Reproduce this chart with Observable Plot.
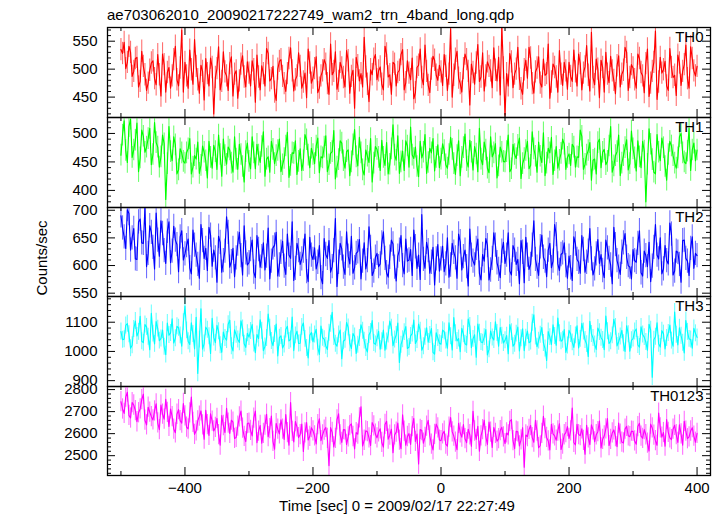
<!DOCTYPE html>
<html><head><meta charset="utf-8">
<script src="https://cdn.jsdelivr.net/npm/d3@7"></script>
<script src="https://cdn.jsdelivr.net/npm/@observablehq/plot@0.6"></script>
<style>
body{margin:0;background:#fff;}
#chart{position:relative;width:723px;height:516px;overflow:hidden;font-family:"Liberation Sans",Arial,Helvetica,sans-serif;color:#000;}
#chart svg{position:absolute;left:0;}
.lbl{position:absolute;font-size:15px;line-height:15px;white-space:nowrap;}
</style></head><body>
<div id="chart">
  <div class="lbl" id="title" style="left:107px;top:7px;"></div>
  <div class="lbl" id="ylab" style="left:41px;top:258px;transform:translate(-50%,-50%) rotate(-90deg);"></div>
  <div class="lbl" id="xlab" style="left:397px;top:498px;transform:translateX(-50%);"></div>
</div>
<script>
// ---- data ----
const titleText = "ae703062010_20090217222749_wam2_trn_4band_long.qdp";
const yLabel = "Counts/sec";
const xLabel = "Time [sec] 0 = 2009/02/17 22:27:49";
const seriesNames = ["TH0", "TH1", "TH2", "TH3", "TH0123"];
const tStart = -500, tStep = 5;   // bins "a" at tStart + j*tStep, bins "b" half a step later
const xTicks = [-400, -200, 0, 200, 400];
const xMinor = [-500, -300, -100, 100, 300];

const th0a = [
535,548,512,530,496,521,478,505,462,498,515,472,490,527,459,503,488,541,470,570,
512,466,499,553,481,507,445,492,520,420,501,463,531,488,510,452,497,479,524,468,
493,515,441,486,506,470,528,483,459,500,517,474,492,538,461,488,505,477,449,511,
484,522,466,497,509,455,490,531,478,502,468,515,487,430,506,492,557,473,499,518,
481,504,463,527,490,512,470,498,535,476,493,520,458,507,485,543,471,500,516,480,
495,526,462,572,489,532,474,501,517,436,494,511,478,529,488,505,467,498,521,575,
418,470,513,491,539,465,499,484,520,457,502,475,518,492,448,509,486,533,471,497,
512,478,495,527,463,504,489,566,472,500,516,459,491,523,480,506,468,498,530,485,
502,466,519,488,510,451,496,568,477,493,514,462,503,489,525,471,508,483,540,497,
505];
const th0b = [
528,501,541,487,519,468,532,490,475,511,483,526,452,508,494,466,517,481,502,459,
488,534,473,505,457,496,519,470,503,485,540,478,495,462,522,491,448,509,486,513,
470,499,525,463,492,537,479,505,444,514,487,460,519,497,481,529,466,493,536,475,
501,458,488,517,474,545,496,464,512,485,533,457,498,521,479,468,504,442,490,526,
497,473,541,486,455,509,494,526,463,515,481,447,503,536,472,496,458,523,489,507,
471,505,491,450,518,484,459,527,496,509,473,544,486,461,513,497,538,479,454,502,
492,528,467,500,482,455,516,539,474,495,522,468,489,545,477,503,459,491,512,464,
487,534,470,510,493,542,461,485,518,449,503,530,476,497,456,524,491,539,462,508,
481,527,494,458,536,475,512,446,521,499,470,537,485,453,511,496,543,466,519,488];
const th1a = [
462,522,449,525,471,518,457,495,476,509,463,484,441,497,384,512,452,480,436,466,
448,473,429,461,485,444,467,422,458,479,437,463,490,446,471,432,455,481,442,468,
451,494,438,462,477,425,459,486,447,470,433,456,502,444,465,428,473,452,489,440,
463,478,431,457,496,445,468,420,454,483,439,471,450,507,443,466,427,460,491,448,
472,435,458,484,446,515,453,430,469,487,441,462,476,424,457,498,449,466,434,480,
455,470,439,493,447,461,426,475,452,488,436,464,509,445,471,431,459,482,443,467,
450,497,438,463,479,421,456,486,444,473,432,460,501,448,466,428,477,453,490,437,
464,481,441,458,495,446,470,418,455,484,440,472,451,512,443,468,426,461,489,447,
473,434,459,486,380,508,454,429,467,492,442,463,478,448,457,500,450,469,435,483,
471];
const th1b = [
497,470,512,458,488,433,506,467,491,445,519,476,459,482,447,468,494,429,473,451,
466,491,441,455,430,478,452,486,439,468,497,425,461,476,448,494,437,463,415,483,
438,466,481,449,503,455,432,472,461,490,445,478,423,466,487,451,435,498,462,474,
447,492,459,476,433,465,505,441,487,452,468,426,480,459,493,436,471,449,415,477,
458,488,444,429,473,462,496,450,435,478,511,456,442,486,467,430,474,491,458,440,
482,445,463,472,428,487,458,499,441,467,477,433,455,485,439,494,466,422,476,451,
468,433,481,456,492,447,470,438,503,460,485,449,426,474,493,452,439,465,481,458,
444,476,459,506,437,462,484,453,429,490,467,445,478,432,461,497,448,475,436,504,
457,487,440,469,446,481,432,498,452,475,418,486,461,439,494,466,447,509,471,452];
const th2a = [
690,652,701,628,667,611,684,640,598,672,633,695,617,658,604,679,626,646,589,663,
621,648,585,637,602,674,613,591,655,628,570,642,609,688,597,631,614,660,583,623,
605,646,578,629,616,592,668,608,637,581,624,599,657,613,573,640,602,626,589,651,
611,594,636,567,620,645,598,685,606,630,584,617,653,596,625,576,641,609,633,590,
622,603,661,587,615,639,572,628,600,648,610,582,634,619,692,595,627,606,565,638,
612,589,650,601,624,577,643,616,598,666,608,631,586,620,649,574,613,637,593,626,
604,659,583,628,611,645,569,619,602,681,597,634,615,580,640,608,656,591,623,600,
617,573,639,606,654,588,626,612,594,647,620,578,632,601,669,609,584,641,615,597,
629,606,663,581,618,642,599,674,612,585,636,603,657,590,624,570,646,608,631,595,
618];
const th2b = [
668,631,694,650,612,679,641,705,622,660,594,646,681,627,662,605,671,638,652,610,
636,596,664,619,577,645,631,669,599,614,653,588,626,660,607,580,639,618,672,601,
629,588,654,597,641,617,576,632,660,601,644,584,619,679,595,627,612,657,571,619,
632,606,578,649,613,588,627,562,640,597,661,603,586,622,647,608,594,670,582,615,
598,641,613,579,646,597,617,654,585,608,629,664,595,575,611,642,586,633,612,590,
635,603,579,640,614,657,592,628,563,619,601,648,574,608,636,592,659,605,578,642,
619,590,636,602,567,624,651,593,637,611,582,655,608,628,596,674,603,620,641,577,
596,652,611,586,629,606,667,583,621,604,591,646,613,567,638,597,624,658,600,576,
609,640,587,626,598,571,633,619,650,594,609,677,583,626,602,645,613,582,652,622];
const th3a = [
1068,1042,1095,1011,1077,1053,1120,1030,1084,1006,1061,1102,1037,1073,989,1056,1112,1045,1081,1018,
1155,1035,1098,1009,925,1146,1027,1074,993,1048,1089,1021,1066,1039,1107,1002,1057,1031,1079,1014,
1049,1092,996,1044,1071,1017,1128,1036,1060,985,1053,1024,1086,1041,1003,1069,1028,1097,1012,1055,
1033,1076,990,1047,1019,1064,1134,1026,1058,975,1040,1082,1010,1051,1023,1091,1037,998,1067,1029,
1045,1008,1073,1034,1104,1020,1056,962,1042,1085,1015,1061,1027,1094,1004,1050,1032,1078,991,1046,
1025,1068,1011,1052,1116,1036,999,1059,1022,1087,1043,980,1064,1030,1075,1007,1048,1101,1018,1054,
1038,992,1066,1026,1083,1045,1003,1070,1034,1125,1016,1057,1029,969,1049,1091,1021,1062,1040,997,
1072,1031,1055,1012,1096,1039,983,1060,1024,1080,1047,1006,1069,1035,1110,1019,1051,1028,1088,1001,
1044,1077,1015,1058,1032,1093,912,1050,1026,1071,1009,1063,1037,1135,1022,1054,995,1067,1041,1079,
1048];
const th3b = [
1040,1089,1059,1021,1104,1067,1035,1092,1050,1130,1026,1078,1044,1016,1097,1063,1029,1086,1055,1100,
1072,1024,1060,1117,1041,1008,1083,1052,1113,1030,1069,997,1046,1093,1018,1074,1041,1105,1026,1062,
1070,1027,1058,1108,1003,1046,1081,1020,1094,1047,1012,1075,1036,1118,1055,1027,1084,1043,978,1065,
1058,1013,1087,1042,1007,1095,1049,1018,1073,1035,1099,1028,1061,993,1046,1071,1012,1056,1106,1024,
1069,1035,1004,1058,1081,1041,1097,1023,1066,1010,1053,1107,1039,1071,1018,1081,1056,997,1064,1028,
1073,1037,1098,1005,1062,1044,1079,1026,1111,1013,1057,1094,1032,1049,988,1070,1039,1063,1082,1029,
1054,1092,1018,1061,1002,1077,1047,1030,1098,1051,1037,1082,1010,1068,1024,1053,1114,1035,1075,1020,
1060,1014,1088,1043,1068,1025,1103,1046,1007,1066,1039,1121,1027,1055,1084,1033,1072,1000,1059,1038,
1068,1022,1084,1049,1004,1074,1040,1098,1015,1061,1046,1090,1018,1057,1081,1030,1106,1043,1011,1062];
const th0123a = [
2745,2692,2788,2671,2730,2654,2712,2779,2640,2698,2662,2735,2618,2689,2756,2633,2677,2604,2709,2648,
2681,2622,2766,2597,2658,2703,2575,2641,2690,2612,2669,2548,2637,2715,2601,2652,2583,2676,2625,2564,
2648,2590,2702,2611,2557,2639,2586,2680,2529,2620,2663,2574,2605,2741,2562,2631,2596,2519,2650,2588,
2613,2553,2667,2594,2628,2455,2606,2579,2690,2560,2617,2585,2644,2531,2598,2722,2570,2609,2546,2635,
2581,2622,2539,2656,2593,2514,2607,2571,2685,2548,2600,2632,2565,2462,2614,2583,2660,2552,2597,2626,
2568,2611,2543,2673,2589,2527,2604,2641,2559,2595,2701,2574,2520,2618,2586,2652,2537,2601,2577,2629,
2555,2594,2664,2532,2608,2572,2448,2587,2637,2561,2612,2545,2679,2583,2526,2599,2570,2645,2553,2605,
2578,2716,2549,2596,2622,2507,2581,2640,2563,2609,2535,2590,2668,2574,2617,2541,2598,2558,2633,2586,
2610,2552,2647,2579,2595,2521,2626,2568,2693,2584,2543,2606,2573,2638,2560,2599,2656,2577,2612,2589,
2601];
const th0123b = [
2712,2766,2683,2741,2705,2695,2754,2661,2720,2677,2703,2649,2730,2666,2697,2712,2621,2688,2659,2737,
2630,2694,2651,2613,2679,2640,2706,2592,2657,2628,2596,2682,2605,2648,2661,2578,2634,2702,2588,2646,
2615,2670,2559,2637,2601,2688,2623,2565,2646,2599,2620,2687,2548,2610,2655,2582,2643,2604,2571,2627,
2590,2641,2568,2616,2579,2627,2540,2663,2594,2618,2551,2636,2587,2605,2672,2544,2613,2581,2650,2598,
2608,2560,2642,2575,2620,2594,2648,2532,2611,2587,2551,2669,2598,2619,2557,2634,2590,2526,2643,2571,
2599,2552,2630,2608,2561,2647,2584,2577,2620,2543,2612,2633,2590,2661,2551,2607,2628,2566,2614,2585,
2603,2656,2568,2611,2544,2627,2594,2619,2582,2660,2536,2601,2623,2567,2642,2590,2612,2528,2595,2632,
2613,2560,2642,2591,2569,2638,2550,2617,2595,2657,2574,2622,2546,2603,2586,2648,2562,2621,2590,2611,
2567,2632,2589,2618,2557,2643,2593,2547,2626,2605,2664,2581,2620,2596,2640,2548,2611,2585,2627,2561];
const seriesA = [th0a, th1a, th2a, th3a, th0123a];
const seriesB = [th0b, th1b, th2b, th3b, th0123b];
const seriesErrors = [20, 19, 22, 29, 46];
const yDomains = [[413.5, 574.5], [370, 528], [544, 705], [880, 1188], [2410, 2814]];
const yMajorTicks = [[450, 500, 550], [400, 450, 500], [550, 600, 650, 700], [900, 1000, 1100], [2500, 2600, 2700, 2800]];
const yMinorSteps = [10, 10, 10, 20, 20];

// ---- styles / layout ----
const colors = ["#ff0000", "#00ff00", "#0000ff", "#00ffff", "#ff00ff"];
const lightColors = ["#ff7070", "#70ff70", "#7070ff", "#70ffff", "#ff70ff"];
const panelTops = [27, 117, 207, 296, 386, 475];
const W = 723, ML = 107, MR = 13;
const xDomain = [-521, 421];
const font = '"Liberation Sans", Arial, Helvetica, sans-serif';

document.getElementById("title").textContent = titleText;
document.getElementById("ylab").textContent = yLabel;
document.getElementById("xlab").textContent = xLabel;

const chart = document.getElementById("chart");
const plotW = W - ML - MR;

seriesA.forEach((a, i) => {
  const b = seriesB[i];
  const data = [];
  a.forEach((v, j) => {
    data.push({t: tStart + j * tStep, v});
    if (j < b.length) data.push({t: tStart + j * tStep + tStep / 2, v: b[j]});
  });
  const last = i === seriesA.length - 1;
  const top = panelTops[i], bottom = panelTops[i + 1];
  const ph = bottom - top;
  const mt = 4, mb = last ? 41 : 4;
  const err = seriesErrors[i];
  const [y0, y1] = yDomains[i];
  const step = yMinorSteps[i];
  const majorIn = yMajorTicks[i];
  const minor = d3.range(Math.ceil(y0 / step) * step, y1, step).filter(v => !majorIn.includes(v));
  const tickStyle = {stroke: "#000", strokeWidth: 1};
  const marks = [
    Plot.ruleX(data, {x: "t", y1: d => d.v - err, y2: d => d.v + err, stroke: lightColors[i], strokeWidth: 1.1, clip: true}),
    Plot.line(data, {x: "t", y: "v", stroke: colors[i], strokeWidth: 1.15, clip: true}),
    Plot.tickY(majorIn, {y: d => d, insetRight: plotW - 8, ...tickStyle}),
    Plot.tickY(majorIn, {y: d => d, insetLeft: plotW - 8, ...tickStyle}),
    Plot.tickY(minor, {y: d => d, insetRight: plotW - 4, ...tickStyle}),
    Plot.tickY(minor, {y: d => d, insetLeft: plotW - 4, ...tickStyle}),
    Plot.tickX(xTicks, {x: d => d, insetBottom: ph - 8, ...tickStyle}),
    Plot.tickX(xTicks, {x: d => d, insetTop: ph - 8, ...tickStyle}),
    Plot.tickX(xMinor, {x: d => d, insetBottom: ph - 4, ...tickStyle}),
    Plot.tickX(xMinor, {x: d => d, insetTop: ph - 4, ...tickStyle}),
    Plot.axisY(majorIn, {tickSize: 0, tickPadding: 10, label: null, fontSize: 15, tickFormat: d3.format("d")}),
    Plot.text([seriesNames[i]], {frameAnchor: "top-right", dx: -7, dy: 4, lineAnchor: "top", textAnchor: "end", fontSize: 15, fill: "#000"}),
    Plot.frame({stroke: "#000", strokeWidth: 1.3})
  ];
  if (last) {
    marks.push(Plot.axisX(xTicks, {tickSize: 0, tickPadding: 7, label: null, fontSize: 15, tickFormat: d3.format("d")}));
  }
  const svg = Plot.plot({
    width: W,
    height: ph + mt + mb,
    marginLeft: ML, marginRight: MR, marginTop: mt, marginBottom: mb,
    x: {domain: xDomain, axis: last ? undefined : null},
    y: {domain: [y0, y1]},
    style: {fontFamily: font, fontSize: "15px", background: "transparent", overflow: "visible", color: "#000"},
    marks
  });
  svg.style.top = (top - mt) + "px";
  chart.appendChild(svg);
});
</script>
</body></html>
